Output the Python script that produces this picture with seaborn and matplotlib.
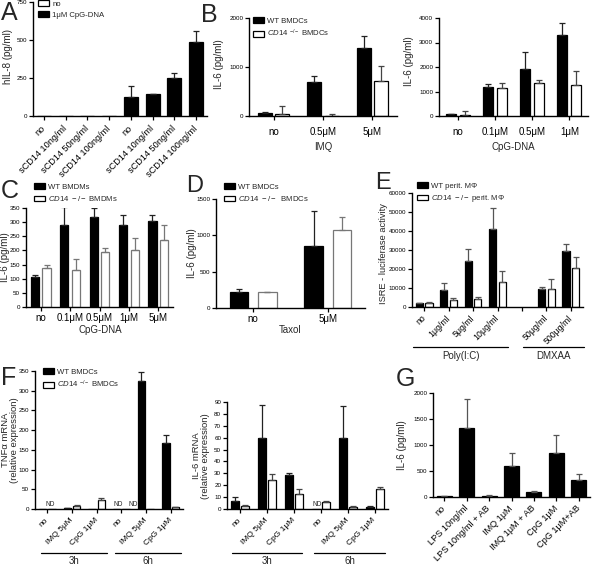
import numpy as np
import pandas as pd
import matplotlib
matplotlib.use("Agg")
import matplotlib.pyplot as plt
import seaborn as sns
from matplotlib.patches import Patch
from matplotlib.container import BarContainer
from matplotlib.transforms import blended_transform_factory

sns.set_theme(style="ticks")
plt.rcParams["font.family"] = ["Liberation Sans", "DejaVu Sans"]
plt.rcParams["mathtext.fontset"] = "custom"
plt.rcParams["mathtext.rm"] = "Liberation Sans"
plt.rcParams["mathtext.it"] = "Liberation Sans:italic"

# ---------------- data ----------------
# Panel A
a_labels = ["no", "sCD14 10ng/ml", "sCD14 50ng/ml", "sCD14 100ng/ml",
            "no", "sCD14 10ng/ml", "sCD14 50ng/ml", "sCD14 100ng/ml"]
a_groups = ["no"] * 4 + ["1μM CpG-DNA"] * 4
a_vals = [0, 0, 0, 0, 128, 144, 250, 484]
a_errs = [0, 0, 0, 0, 70, 3, 33, 74]

# Panel B (IMQ)
b1_labels = ["no", "0.5μM", "5μM"]
b1_wt = [55, 702, 1385]
b1_wt_err = [33, 116, 250]
b1_ko = [35, 5, 723]
b1_ko_err = [170, 45, 300]

# Panel B (CpG-DNA)
b2_labels = ["no", "0.1μM", "0.5μM", "1μM"]
b2_wt = [68, 1173, 1909, 3313]
b2_wt_err = [32, 136, 723, 477]
b2_ko = [40, 1147, 1336, 1254]
b2_ko_err = [178, 190, 137, 586]

# Panel C
c_labels = ["no", "0.1μM", "0.5μM", "1μM", "5μM"]
c_wt = [106, 291, 318, 289, 303]
c_wt_err = [8, 62, 32, 37, 23]
c_ko = [137, 130, 194, 200, 238]
c_ko_err = [13, 38, 14, 44, 51]

# Panel D
d_labels = ["no", "5μM"]
d_wt = [220, 850]
d_wt_err = [40, 480]
d_ko = [215, 1075]
d_ko_err = [8, 180]

# Panel E
e_labels = ["no", "1μg/ml", "5μg/ml", "10μg/ml", "", "50μg/ml", "500μg/ml"]
e_pos = [0, 1, 2, 3, 5, 6]
e_wt = [1900, 8900, 24300, 41100, 9300, 29400]
e_wt_err = [400, 3500, 6000, 11000, 1400, 3700]
e_ko = [1900, 3700, 4200, 12900, 9400, 20600]
e_ko_err = [900, 800, 900, 6200, 5300, 5500]

# Panel F (TNFa mRNA)
f_labels = ["no", "IMQ 5μM", "CpG 1μM", "no", "IMQ 5μM", "CpG 1μM"]
f1_wt = [0, 2.5, 0.5, 0, 324, 168]
f1_wt_err = [0, 1, 0, 0, 23, 19]
f1_ko = [0, 8, 23, 0, 0, 4]
f1_ko_err = [0, 3, 5, 0, 0, 1.5]

# Panel F (IL-6 mRNA)
f2_wt = [7, 59.3, 28.7, 0, 59.3, 2]
f2_wt_err = [3, 28.5, 2, 0, 27.5, 0.4]
f2_ko = [2.8, 24.5, 12.5, 5.8, 2, 16.7]
f2_ko_err = [0.8, 5, 4.5, 0.6, 0.8, 1.7]

# Panel G
g_labels = ["no", "LPS 10ng/ml", "LPS 10ng/ml + AB", "IMQ 1μM", "IMQ 1μM + AB",
            "CpG 1μM", "CpG 1μM+AB"]
g_vals = [19, 1318, 19, 605, 96, 841, 331]
g_errs = [6, 561, 19, 236, 25, 350, 108]

# ---------------- layout helpers ----------------
W, H = 592, 566
fig = plt.figure(figsize=(W / 100, H / 100), dpi=100)

TICK = 4.5
CAT = 7.0
LAB = 7.0
LEG = 5.6


def px_ax(x0, y0, x1, y1):
    return fig.add_axes([x0 / W, 1 - y1 / H, (x1 - x0) / W, (y1 - y0) / H])


def style(ax, ylim, yticks):
    ax.set_ylim(*ylim)
    ax.set_yticks(yticks)
    ax.set_yticklabels([str(t) for t in yticks], fontsize=TICK)
    sns.despine(ax=ax)
    for s in ("left", "bottom"):
        ax.spines[s].set_linewidth(1.0)
        ax.spines[s].set_color("black")
    ax.tick_params(direction="out", length=3, width=0.9, colors="black", pad=1.2)
    ax.set_xlabel("")
    ax.set_ylabel("")
    ax.set_facecolor("white")


def draw(ax, ncat, xs, groups, vals, errs, colors, edges, ecols, width, gap=0.0,
         dodge=True):
    order = [f"c{i}" for i in range(ncat)]
    hue_order = list(dict.fromkeys(groups))
    df = pd.DataFrame({"x": [f"c{i}" for i in xs], "g": groups, "v": vals})
    sns.barplot(data=df, x="x", y="v", hue="g", order=order, hue_order=hue_order,
                palette=dict(zip(hue_order, colors)), width=width, gap=gap,
                dodge=dodge, errorbar=None, legend=False, linewidth=0.9,
                saturation=1, ax=ax)
    lookup = {(i, g): (v, e) for i, g, v, e in zip(xs, groups, vals, errs)}
    conts = [c for c in ax.containers if isinstance(c, BarContainer)]
    for gi, cont in enumerate(conts):
        g = hue_order[gi]
        for p in cont:
            p.set_edgecolor(edges[gi])
            cx = p.get_x() + p.get_width() / 2
            ci = int(round(cx))
            v, e = lookup[(ci, g)]
            if e > 0:
                ax.errorbar(cx, p.get_height(), yerr=[[0], [e]], fmt="none",
                            ecolor=ecols[gi], elinewidth=0.9, capsize=2.3,
                            capthick=0.9)
    ax.set_xlim(-0.5, ncat - 0.5)


def two(ax, labels, wt, wte, ko, koe, width, gap, ko_edge="black", ko_err="#444444"):
    n = len(labels)
    xs = list(range(n)) * 2
    groups = ["WT"] * n + ["KO"] * n
    draw(ax, n, xs, groups, wt + ko, wte + koe, ["black", "white"],
         ["black", ko_edge], ["#222222", ko_err], width, gap)


def xcats(ax, labels, fs=CAT, rot=0, pad=4):
    ax.set_xticks(range(len(labels)))
    if rot:
        ax.set_xticklabels(labels, fontsize=fs, rotation=rot, ha="right",
                           va="center", rotation_mode="anchor")
        ax.tick_params(axis="x", pad=pad)
    else:
        ax.set_xticklabels(labels, fontsize=fs)
        ax.tick_params(axis="x", pad=pad)


def ylab(text, cx, cy, fs=LAB, ls=1.05):
    fig.text(cx / W, 1 - cy / H, text, rotation=90, ha="center", va="center",
             fontsize=fs, linespacing=ls)


def xlab(text, cx, cy, fs=CAT):
    fig.text(cx / W, 1 - cy / H, text, ha="center", va="center", fontsize=fs)


def letter(text, x, y, fs=18):
    fig.text(x / W, 1 - y / H, text, ha="left", va="top", fontsize=fs)


def legend(labels, colors, edges, x, y):
    handles = [Patch(facecolor=c, edgecolor=e, linewidth=0.9) for c, e in zip(colors, edges)]
    fig.legend(handles, labels, loc="upper left", bbox_to_anchor=(x / W, 1 - y / H),
               frameon=False, fontsize=LEG, handlelength=1.4, handleheight=0.75,
               handletextpad=0.45, labelspacing=0.45, borderpad=0, borderaxespad=0)


def bracket(ax, i0, i1, ypx, text, typx, fs=CAT):
    tr = blended_transform_factory(ax.transData, fig.transFigure)
    ax.plot([i0, i1], [1 - ypx / H] * 2, transform=tr, color="black", lw=0.9,
            clip_on=False)
    ax.text((i0 + i1) / 2, 1 - typx / H, text, transform=tr, ha="center",
            va="center", fontsize=fs)


ko_sup_dc = r"$\it{CD14}$ $^{-/-}$ BMDCs"

# ---------------- Panel A ----------------
axA = px_ax(33, 2, 207, 116)
draw(axA, 8, list(range(8)), a_groups, a_vals, a_errs, ["white", "black"],
     ["black", "black"], ["#222222", "#222222"], width=0.65, dodge=False)
style(axA, (0, 750), [0, 250, 500, 750])
xcats(axA, a_labels, fs=6.6, rot=45, pad=5)
ylab("hIL-8 (pg/ml)", 8, 57)
legend(["no", "1μM CpG-DNA"], ["white", "black"], ["black", "black"], 38, 0)
letter("A", 1, 1)

# ---------------- Panel B ----------------
axB1 = px_ax(249, 18, 397, 116)
two(axB1, b1_labels, b1_wt, b1_wt_err, b1_ko, b1_ko_err, 0.7, 0.2)
style(axB1, (0, 2000), [0, 1000, 2000])
xcats(axB1, b1_labels, pad=5)
ylab("IL-6 (pg/ml)", 219, 64)
xlab("IMQ", 323, 147)
legend(["WT BMDCs", ko_sup_dc], ["black", "white"], ["black", "black"], 253, 17)
letter("B", 201, 3)

axB2 = px_ax(439, 18, 588, 116)
two(axB2, b2_labels, b2_wt, b2_wt_err, b2_ko, b2_ko_err, 0.76, 0.3)
style(axB2, (0, 4000), [0, 1000, 2000, 3000, 4000])
xcats(axB2, b2_labels, pad=5)
ylab("IL-6 (pg/ml)", 409, 61)
xlab("CpG-DNA", 513, 147)

# ---------------- Panel C ----------------
axC = px_ax(26, 208, 173, 307)
two(axC, c_labels, c_wt, c_wt_err, c_ko, c_ko_err, 0.8, 0.3, ko_edge="#777777",
    ko_err="#777777")
style(axC, (0, 350), list(range(0, 351, 50)))
xcats(axC, c_labels, pad=1.5)
ylab("IL-6 (pg/ml)", 5, 257)
xlab("CpG-DNA", 100, 330)
legend(["WT BMDMs", r"$\it{CD14\ -/-}$ BMDMs"], ["black", "white"], ["black", "black"], 34, 183)
letter("C", 1, 179)

# ---------------- Panel D ----------------
axD = px_ax(216, 199, 365, 308)
two(axD, d_labels, d_wt, d_wt_err, d_ko, d_ko_err, 0.76, 0.35, ko_edge="#777777",
    ko_err="#777777")
style(axD, (0, 1500), [0, 500, 1000, 1500])
xcats(axD, d_labels, pad=1.5)
ylab("IL-6 (pg/ml)", 192, 253)
xlab("Taxol", 290, 330)
legend(["WT BMDCs", r"$\it{CD14\ -/-}$  BMDCs"], ["black", "white"], ["black", "black"], 224, 183)
letter("D", 186, 175, fs=17)

# ---------------- Panel E ----------------
axE = px_ax(412, 193, 583, 307)
n = len(e_pos)
draw(axE, 7, e_pos * 2, ["WT"] * n + ["KO"] * n, e_wt + e_ko, e_wt_err + e_ko_err,
     ["black", "white"], ["black", "black"], ["#555555", "#555555"], 0.78, 0.25)
style(axE, (0, 60000), list(range(0, 60001, 10000)))
xcats(axE, e_labels, fs=6.3, rot=45, pad=4)
ylab("ISRE - luciferase activity", 383, 254, fs=6.7)
legend(["WT perit. MΦ", r"$\it{CD14\ -/-}$ perit. MΦ"], ["black", "white"],
       ["black", "black"], 417, 182)
bracket(axE, -0.45, 3.45, 347, "Poly(I:C)", 356)
bracket(axE, 4.05, 6.55, 347, "DMXAA", 356)
letter("E", 375, 172, fs=17)

# ---------------- Panel F ----------------
axF1 = px_ax(35, 371, 183, 509)
two(axF1, f_labels, f1_wt, f1_wt_err, f1_ko, f1_ko_err, 0.74, 0.2)
style(axF1, (0, 350), list(range(0, 351, 50)))
xcats(axF1, f_labels, fs=6.0, rot=45, pad=4)
ylab("TNFα mRNA\n(relative expression)", 10, 440, fs=6.8, ls=1.0)
for xi in (0.12, 2.89, 3.47):
    axF1.text(xi, 3, "ND", ha="center", va="bottom", fontsize=4.8)
bracket(axF1, -0.25, 2.4, 553, "3h", 561)
bracket(axF1, 2.75, 5.4, 553, "6h", 561)
legend(["WT BMDCs", ko_sup_dc], ["black", "white"], ["black", "black"], 43, 368)
letter("F", 1, 366)

axF2 = px_ax(227, 402, 388, 509)
two(axF2, f_labels, f2_wt, f2_wt_err, f2_ko, f2_ko_err, 0.74, 0.2)
style(axF2, (0, 90), list(range(0, 91, 10)))
xcats(axF2, f_labels, fs=6.0, rot=45, pad=4)
ylab("IL-6 mRNA\n(relative expression)", 201, 456, fs=6.8, ls=1.0)
axF2.text(2.86, 1, "ND", ha="center", va="bottom", fontsize=4.8)
bracket(axF2, -0.3, 2.3, 553, "3h", 561)
bracket(axF2, 2.75, 5.4, 553, "6h", 561)

# ---------------- Panel G ----------------
axG = px_ax(433, 393, 590, 497)
draw(axG, 7, list(range(7)), ["IL6"] * 7, g_vals, g_errs, ["black"], ["black"],
     ["#555555"], 0.67, dodge=False)
style(axG, (0, 2000), [0, 500, 1000, 1500, 2000])
xcats(axG, g_labels, fs=6.6, rot=45, pad=4)
ylab("IL-6 (pg/ml)", 402, 445)
letter("G", 396, 367)

fig.savefig("out.png", dpi=100, facecolor="white")
